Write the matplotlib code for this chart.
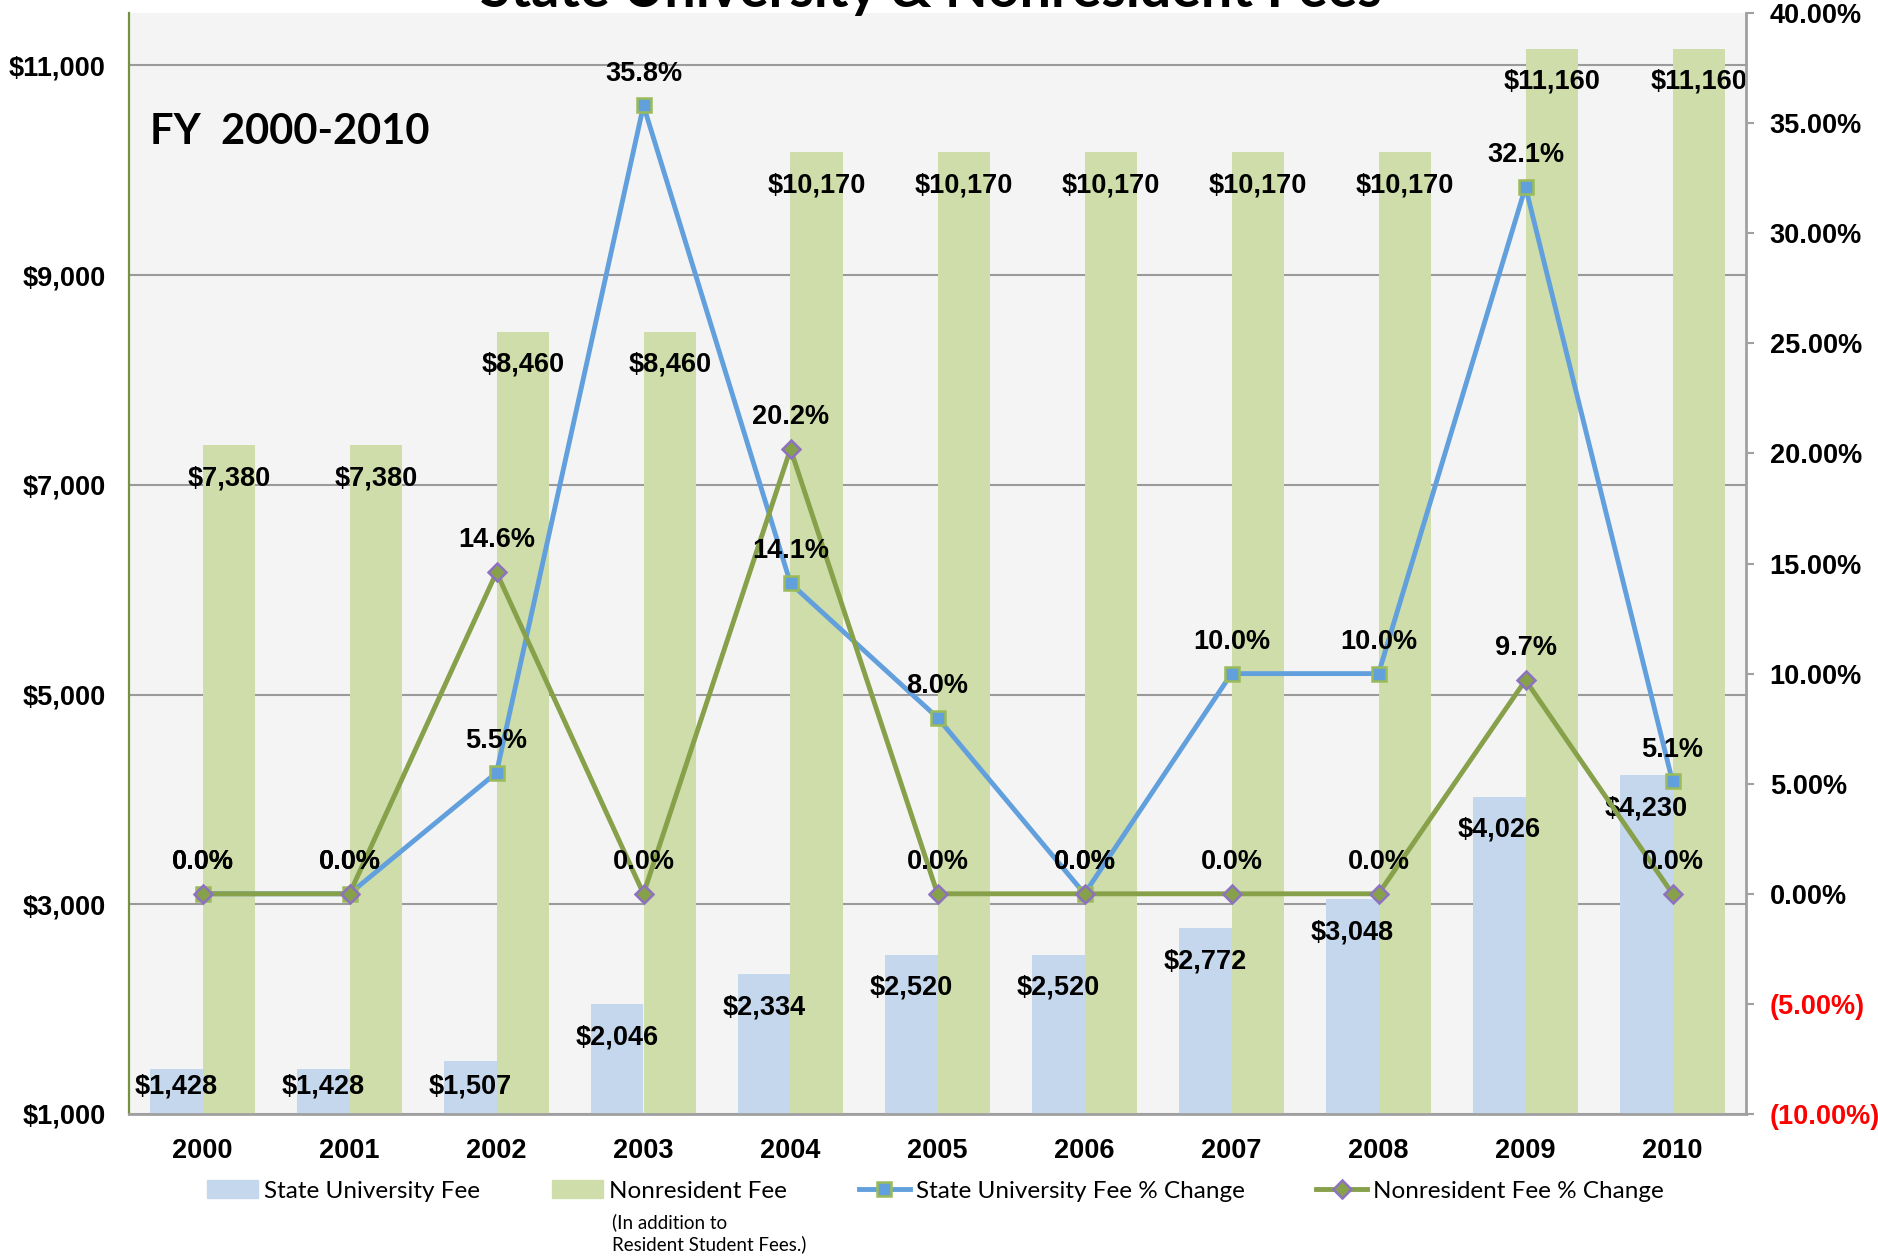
import numpy as np
import matplotlib
matplotlib.use('Agg')
import matplotlib.pyplot as plt
from matplotlib.lines import Line2D
from matplotlib.patches import Patch

# data
years = ['2000', '2001', '2002', '2003', '2004', '2005',
         '2006', '2007', '2008', '2009', '2010']
state_fee = [1428, 1428, 1507, 2046, 2334, 2520, 2520, 2772, 3048, 4026, 4230]
nonres_fee = [7380, 7380, 8460, 8460, 10170, 10170, 10170, 10170, 10170, 11160, 11160]
state_pct = [0.0, 0.0, 5.5, 35.8, 14.1, 8.0, 0.0, 10.0, 10.0, 32.1, 5.1]
nonres_pct = [0.0, 0.0, 14.6, 0.0, 20.2, 0.0, 0.0, 0.0, 0.0, 9.7, 0.0]

left_ticks = [1000, 3000, 5000, 7000, 9000, 11000]
right_ticks = [-10, -5, 0, 5, 10, 15, 20, 25, 30, 35, 40]

BLUE_BAR = '#C5D7EC'
GREEN_BAR = '#CEDDAA'
BLUE_LINE = '#62A0DD'
GREEN_LINE = '#87A04A'
GRID = '#9A9A9A'
FS = 19.5

plt.rcParams['font.family'] = ['Liberation Sans', 'DejaVu Sans']
plt.rcParams['font.weight'] = 'bold'

W, H = 1878, 1259
fig = plt.figure(figsize=(W / 100, H / 100), dpi=100)
ax = fig.add_axes([129 / W, 1 - 1114 / H, 1617 / W, 1101 / H])
ax.set_facecolor('#F4F4F4')

x = np.arange(len(years))
w = 0.36
ax.bar(x - w / 2, state_fee, w, color=BLUE_BAR, zorder=2)
ax.bar(x + w / 2, nonres_fee, w, color=GREEN_BAR, zorder=2)
ax.set_xlim(-0.5, len(years) - 0.5)
ax.set_ylim(1000, 11500)
ax.set_yticks(left_ticks, labels=[f'${v:,}' for v in left_ticks])
ax.set_xticks(x, labels=years)
ax.yaxis.grid(True, color=GRID, lw=1.5)
ax.set_axisbelow(True)
ax.tick_params(axis='y', length=0, pad=17, labelsize=FS)
ax.tick_params(axis='x', length=0, pad=17, labelsize=FS)
ax.spines['top'].set_visible(False)
ax.spines['right'].set_visible(False)
ax.spines['left'].set_color('#76923C')
ax.spines['left'].set_linewidth(1.6)
ax.spines['bottom'].set_color('#A0A0A0')
ax.spines['bottom'].set_linewidth(2)

# bar value labels, inside the top of each bar
for i in range(len(years)):
    ax.text(x[i] - w / 2, max(state_fee[i] - 315, 1260), f'${state_fee[i]:,}',
            ha='center', va='center', fontsize=FS, fontweight='bold', zorder=3)
    ax.text(x[i] + w / 2, max(nonres_fee[i] - 315, 1260), f'${nonres_fee[i]:,}',
            ha='center', va='center', fontsize=FS, fontweight='bold', zorder=3)

ax.text(0.013, 0.892, 'FY  2000-2010', transform=ax.transAxes, ha='left', va='center',
        fontsize=30, fontweight='bold', family=['Lato', 'DejaVu Sans'])

# percent change on right axis
ax2 = ax.twinx()
ax2.set_ylim(-10, 40)
rlabels = [f'({abs(v):.2f}%)' if v < 0 else f'{v:.2f}%' for v in right_ticks]
ax2.set_yticks(right_ticks, labels=rlabels)
for t, v in zip(ax2.get_yticklabels(), right_ticks):
    if v < 0:
        t.set_color('#FF0000')
ax2.tick_params(axis='y', length=6, width=1.5, color='#A0A0A0', pad=11, labelsize=FS)
for s in ['top', 'left', 'bottom']:
    ax2.spines[s].set_visible(False)
ax2.spines['right'].set_color('#A0A0A0')
ax2.spines['right'].set_linewidth(2)

ax2.plot(x, state_pct, color=BLUE_LINE, lw=3.5, marker='s', ms=10,
         mfc=BLUE_LINE, mec='#9BBB59', mew=1.8, zorder=3)
ax2.plot(x, nonres_pct, color=GREEN_LINE, lw=3.5, marker='D', ms=9,
         mfc=GREEN_LINE, mec='#8E72C0', mew=1.8, zorder=4)

for i in range(len(years)):
    for v in (state_pct[i], nonres_pct[i]):
        ax2.annotate(f'{v:.1f}%', (x[i], v), xytext=(0, 23), textcoords='offset points',
                     ha='center', va='center', fontsize=FS, fontweight='bold', zorder=5)

fig.text(931 / W, 1 - 7 / H, 'State University & Nonresident Fees', ha='center',
         va='baseline', fontsize=40, fontweight='bold', family=['Lato', 'DejaVu Sans'])

handles = [
    Patch(color=BLUE_BAR),
    Patch(color=GREEN_BAR),
    Line2D([], [], color=BLUE_LINE, lw=3.5, marker='s', ms=10, mfc=BLUE_LINE,
           mec='#9BBB59', mew=1.8),
    Line2D([], [], color=GREEN_LINE, lw=3.5, marker='D', ms=9, mfc=GREEN_LINE,
           mec='#8E72C0', mew=1.8),
]
labels = ['State University Fee', 'Nonresident Fee',
          'State University Fee % Change', 'Nonresident Fee % Change']
fig.legend(handles, labels, loc='center left', bbox_to_anchor=(207 / W, 1 - 1191 / H),
           ncol=4, frameon=False, prop={'family': ['Lato', 'DejaVu Sans'], 'size': 17.5, 'weight': 'normal'},
           handlelength=2.1, handletextpad=0.25, columnspacing=2.95,
           borderpad=0, borderaxespad=0)
fig.text(612 / W, 1 - 1213 / H, '(In addition to\nResident Student Fees.)', ha='left', va='top',
         fontsize=13.5, fontweight='normal', family=['Lato', 'DejaVu Sans'], linespacing=1.3)

fig.savefig('out.png', dpi=100)
